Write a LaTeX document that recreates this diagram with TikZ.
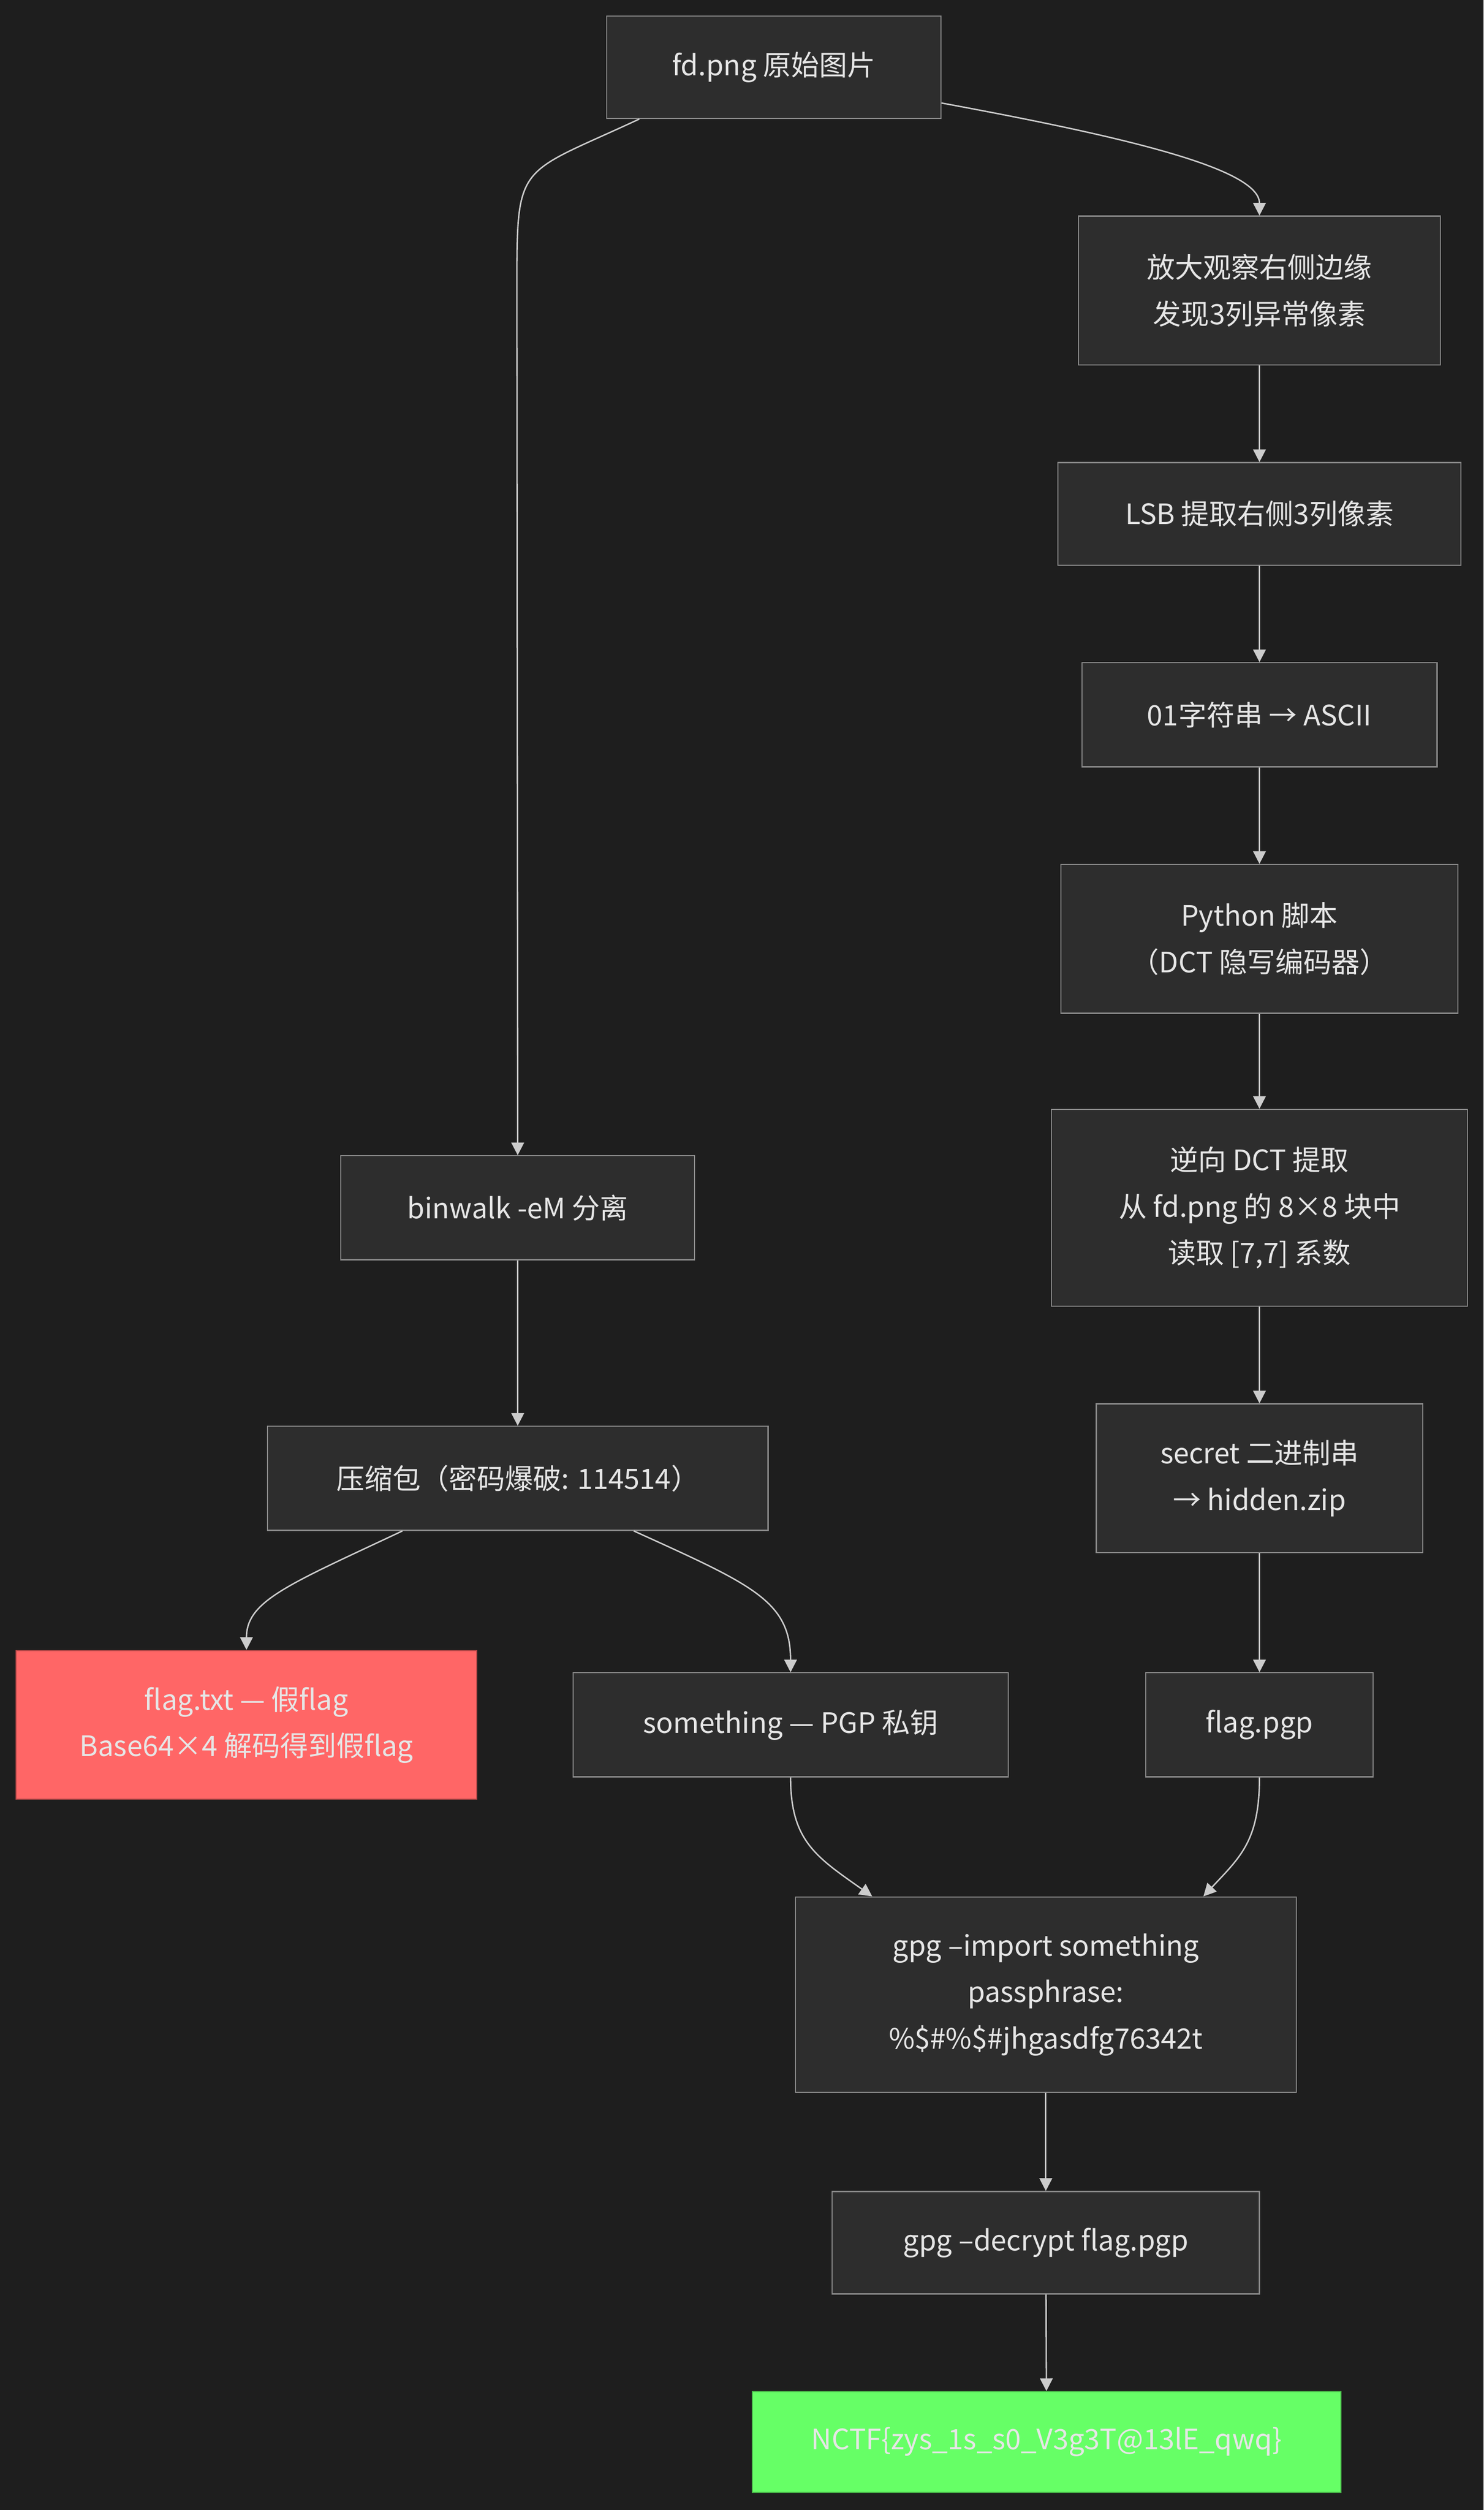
\documentclass[tikz,border=0pt]{standalone}
\usepackage{fontspec}
\setmainfont{Noto Sans CJK SC}
\usetikzlibrary{arrows.meta}
\definecolor{bgc}{HTML}{1E1E1E}
\definecolor{boxc}{HTML}{2D2D2D}
\definecolor{linec}{HTML}{CCCCCC}
\definecolor{textc}{HTML}{E6E6E6}
\definecolor{bordc}{HTML}{8A8A8A}
\definecolor{redc}{HTML}{FF6666}
\definecolor{greenc}{HTML}{66FF66}
\tikzset{
  box/.style={draw=bordc, fill=boxc, text=textc, inner sep=0pt, align=center,
    font=\fontsize{10pt}{16.5pt}\selectfont},
  edge/.style={draw=linec, line width=0.5pt, -{Triangle[length=4.5pt,width=4.5pt]}}
}
\begin{document}
\begin{tikzpicture}[x=0.02cm,y=-0.02cm]
    \useasboundingbox[fill=bgc] (0,0) rectangle (927,1568);

    \node[box, minimum width=4.18cm, minimum height=1.28cm] (fd) at (483.5,42) {fd.png 原始图片};
    \node[box, minimum width=4.52cm, minimum height=1.86cm] (zoom) at (787,181.5) {放大观察右侧边缘\\发现3列异常像素};
    \node[box, minimum width=5.04cm, minimum height=1.28cm] (lsb) at (787,321) {LSB 提取右侧3列像素};
    \node[box, minimum width=4.44cm, minimum height=1.30cm] (ascii) at (787,446.5) {01字符串 → ASCII};
    \node[box, minimum width=4.96cm, minimum height=1.86cm] (py) at (787,586.5) {Python 脚本\\（DCT 隐写编码器）};
    \node[box, minimum width=5.20cm, minimum height=2.46cm] (dct) at (787,754.5) {逆向 DCT 提取\\从 fd.png 的 8×8 块中\\读取 [7,7] 系数};
    \node[box, minimum width=4.08cm, minimum height=1.86cm] (secret) at (787,923.5) {secret 二进制串\\→ hidden.zip};
    \node[box, minimum width=2.84cm, minimum height=1.30cm] (pgp) at (787,1077.5) {flag.pgp};

    \node[box, minimum width=4.42cm, minimum height=1.30cm] (binwalk) at (323.5,754.5) {binwalk -eM 分离};
    \node[box, minimum width=6.26cm, minimum height=1.30cm] (zip) at (323.5,923.5) {压缩包（密码爆破: 114514）};
    \node[box, fill=redc, draw=redc!70!black, minimum width=5.76cm, minimum height=1.86cm] (fake) at (154,1077.5) {flag.txt — 假flag\\Base64×4 解码得到假flag};
    \node[box, minimum width=5.44cm, minimum height=1.30cm] (key) at (494,1077.5) {something — PGP 私钥};

    \node[box, minimum width=6.26cm, minimum height=2.44cm] (imp) at (653.5,1246) {gpg --import something\\passphrase:\\\%\$\#\%\$\#jhgasdfg76342t};
    \node[box, minimum width=5.34cm, minimum height=1.28cm] (dec) at (653.5,1401) {gpg --decrypt flag.pgp};
    \node[box, fill=greenc, draw=greenc!70!black, minimum width=7.36cm, minimum height=1.26cm] (flag) at (654,1525.5) {NCTF\{zys\_1s\_s0\_V3g3T@13lE\_qwq\}};

    \draw[edge] ([xshift=-1.68cm]fd.south) .. controls (323,110) and (323,100) .. (323,180) -- (binwalk.north);
    \draw[edge] ([yshift=0.2cm]fd.south east) .. controls (700,85) and (787,105) .. (zoom.north);
    \draw[edge] (zoom) -- (lsb);
    \draw[edge] (lsb) -- (ascii);
    \draw[edge] (ascii) -- (py);
    \draw[edge] (py) -- (dct);
    \draw[edge] (dct) -- (secret);
    \draw[edge] (secret) -- (pgp);
    \draw[edge] (binwalk) -- (zip);
    \draw[edge] ([xshift=-1.44cm]zip.south) .. controls (180,990) and (154,1000) .. (fake.north);
    \draw[edge] ([xshift=1.45cm]zip.south) .. controls (470,990) and (494,1000) .. (key.north);
    \draw[edge] (key.south) .. controls (494,1150) and (510,1160) .. ([xshift=-2.17cm]imp.north);
    \draw[edge] (pgp.south) .. controls (787,1150) and (775,1160) .. ([xshift=1.97cm]imp.north);
    \draw[edge] (imp) -- (dec);
    \draw[edge] (dec) -- (flag);
\end{tikzpicture}
\end{document}
